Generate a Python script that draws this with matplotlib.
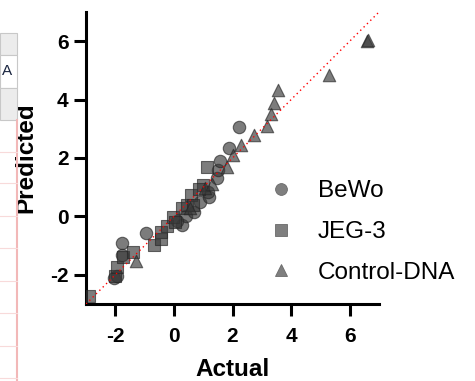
import matplotlib
matplotlib.use("Agg")
import matplotlib.pyplot as plt
from matplotlib.lines import Line2D
from matplotlib.patches import Rectangle

plt.rcParams['font.family'] = ['Liberation Sans', 'DejaVu Sans']
plt.rcParams['axes.unicode_minus'] = False

# ---- data (Actual, Predicted) ----
bewo_x = [-2.05, -1.78, -1.78, -0.96, 0.27, 0.40, 0.68, 0.90, 1.20, 1.17, 1.47, 1.52, 1.57, 1.89, 2.22, 0.10, -1.95]
bewo_y = [-2.10, -0.90, -1.32, -0.56, -0.29, 0.00, 0.15, 0.50, 0.68, 0.84, 1.32, 1.59, 1.90, 2.34, 3.07, -0.15, -2.05]

jeg_x = [-2.90, -2.00, -1.95, -1.74, -1.41, -0.68, -0.45, -0.45, -0.24, -0.03, 0.03, 0.27, 0.45, 0.58, 0.66, 1.00, 1.12, 0.85]
jeg_y = [-2.72, -2.05, -1.73, -1.39, -1.21, -0.99, -0.78, -0.55, -0.33, -0.02, -0.20, 0.29, 0.40, 0.74, 0.40, 1.08, 1.70, 0.95]

ctrl_x = [-1.31, 1.06, 1.82, 2.01, 2.29, 2.72, 3.17, 3.31, 3.42, 3.55, 5.31, 6.60, 6.62, 0.55, 1.30]
ctrl_y = [-1.52, 0.98, 1.70, 2.10, 2.45, 2.79, 3.10, 3.51, 3.89, 4.34, 4.85, 6.02, 6.05, 0.30, 1.10]

labels = ["BeWo", "JEG-3", "Control-DNA"]
ticks = [-2, 0, 2, 4, 6]
lim = (-3, 7)

W, H = 475, 381
fig = plt.figure(figsize=(W / 100, H / 100), dpi=100)

# ---- spreadsheet remnant on the left edge ----
def px_rect(x0, y0, x1, y1, **kw):
    fig.patches.append(Rectangle((x0 / W, 1 - y1 / H), (x1 - x0) / W, (y1 - y0) / H,
                                 transform=fig.transFigure, **kw))

px_rect(0, 33, 17, 55, facecolor='#ececec', edgecolor='#c8c8c8', lw=0.8)
px_rect(0, 55, 17, 88, facecolor='white', edgecolor='#c8c8c8', lw=0.8)
px_rect(0, 88, 17, 120, facecolor='#ececec', edgecolor='#c8c8c8', lw=0.8)
fig.add_artist(Line2D([17 / W, 17 / W], [0, 1 - 120 / H], transform=fig.transFigure,
                      color='#f2b8b8', lw=1.5))
for yy in [152, 183, 216, 248, 281, 313, 346, 378]:
    fig.add_artist(Line2D([0, 17 / W], [1 - yy / H, 1 - yy / H], transform=fig.transFigure,
                          color='#f8dada', lw=0.8))
fig.text(2 / W, 1 - 71 / H, "A", ha='left', va='center', fontsize=11, color='#1a2540')

# ---- main axes ----
ax = fig.add_axes([86 / W, 1 - 304 / H, 293 / W, 292 / H])
ax.set_xlim(lim)
ax.set_ylim(lim)

ax.plot(lim, lim, color='red', linestyle=(0, (1, 2.4)), lw=1.0, zorder=4)

face = (0.22, 0.22, 0.22)
kw = dict(s=80, facecolor=face, edgecolor=(0.15, 0.15, 0.15), linewidths=0.8, alpha=0.66, zorder=3)
ax.scatter(bewo_x, bewo_y, marker='o', **kw)
ax.scatter(jeg_x, jeg_y, marker='s', **kw)
ax.scatter(ctrl_x, ctrl_y, marker='^', **kw)

for s in ['top', 'right']:
    ax.spines[s].set_visible(False)
for s in ['left', 'bottom']:
    ax.spines[s].set_linewidth(2.2)
ax.set_xticks(ticks)
ax.set_yticks(ticks)
ax.tick_params(width=2.2, length=8.5, labelsize=15)
ax.tick_params(axis='x', pad=8)
ax.tick_params(axis='y', pad=4)
for t in ax.get_xticklabels() + ax.get_yticklabels():
    t.set_fontweight('bold')

ax.set_xlabel("Actual", fontsize=17.5, fontweight='bold', labelpad=9)
ax.set_ylabel("Predicted", fontsize=17.5, fontweight='bold', labelpad=9)

handles = [Line2D([], [], marker=m, linestyle='none', markersize=8.5,
                  markerfacecolor='#7f7f7f', markeredgecolor='#6a6a6a', markeredgewidth=0.6)
           for m in ['o', 's', '^']]
fig.legend(handles, labels, loc='center left', bbox_to_anchor=(257 / W, 1 - 232 / H),
           frameon=False, fontsize=17.5, borderpad=0, handlelength=1.0,
           handletextpad=1.0, labelspacing=0.78)

fig.savefig("out.png", dpi=100)
